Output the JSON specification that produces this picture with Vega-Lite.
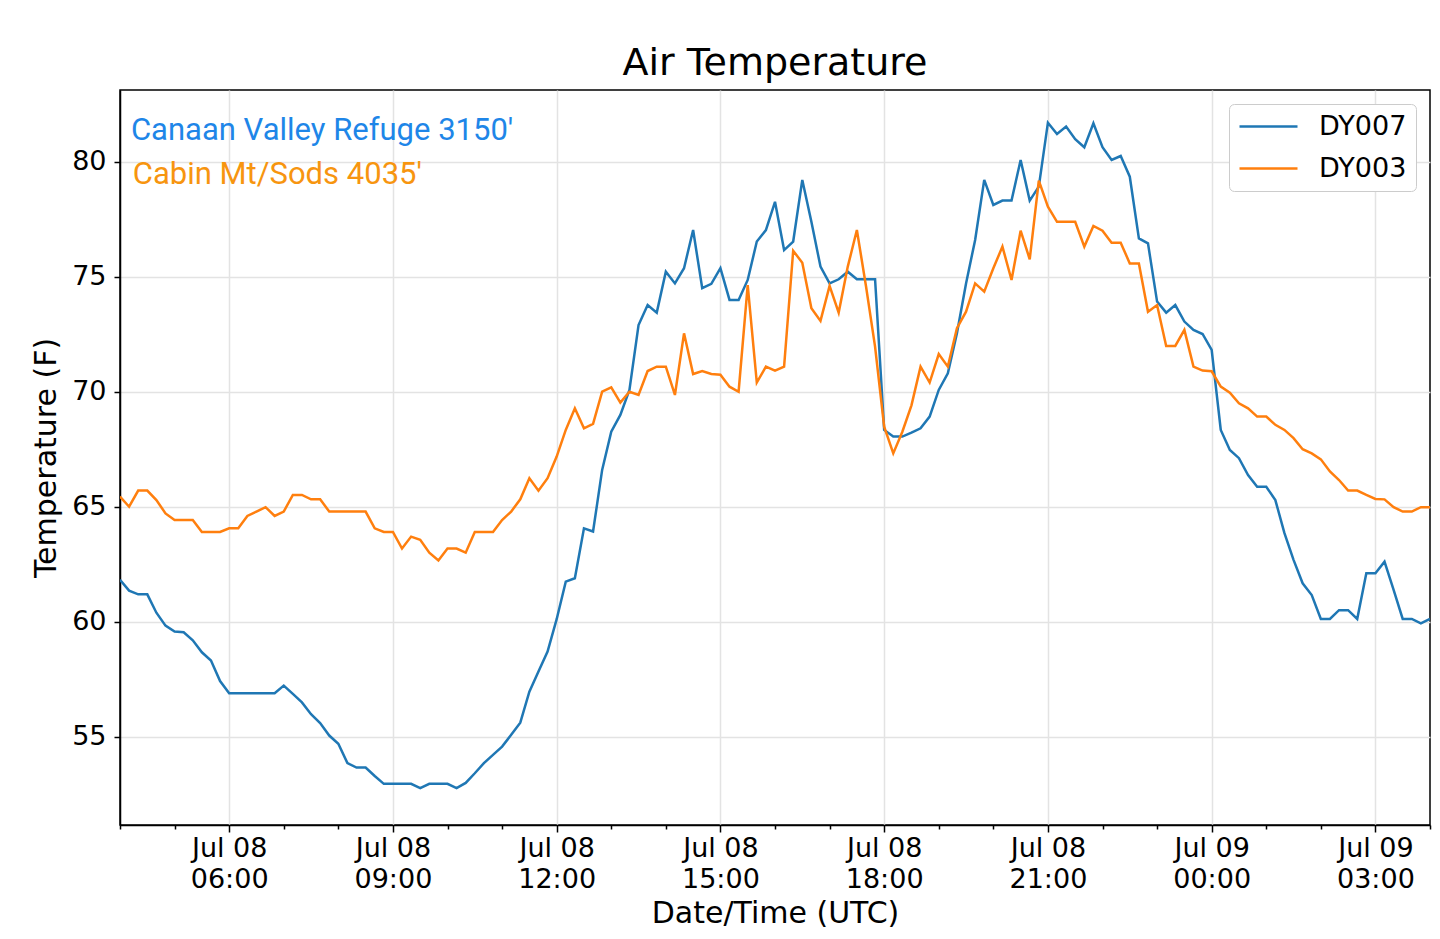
{
"$schema": "https://vega.github.io/schema/vega-lite/v6.json",
"width": 1310,
"height": 735,
"autosize": {"type": "none"},
"padding": {"left": 120, "top": 90, "right": 10, "bottom": 114},
"background": "white",
"config": {"view": {"stroke": "black", "strokeWidth": 1.5}, "font": "DejaVu Sans"},
"title": {"text": "Air Temperature", "fontSize": 38, "font": "DejaVu Sans", "fontWeight": "normal", "color": "black", "anchor": "middle", "baseline": "alphabetic", "offset": 12, "dy": 35},
"data": {"values": [
{"time":"2019-07-08T04:00Z","station":"DY007","temp":61.83},{"time":"2019-07-08T04:10Z","station":"DY007","temp":61.36},{"time":"2019-07-08T04:20Z","station":"DY007","temp":61.2},{"time":"2019-07-08T04:30Z","station":"DY007","temp":61.2},{"time":"2019-07-08T04:40Z","station":"DY007","temp":60.4},{"time":"2019-07-08T04:50Z","station":"DY007","temp":59.84},
{"time":"2019-07-08T05:00Z","station":"DY007","temp":59.58},{"time":"2019-07-08T05:10Z","station":"DY007","temp":59.55},{"time":"2019-07-08T05:20Z","station":"DY007","temp":59.2},{"time":"2019-07-08T05:30Z","station":"DY007","temp":58.68},{"time":"2019-07-08T05:40Z","station":"DY007","temp":58.32},{"time":"2019-07-08T05:50Z","station":"DY007","temp":57.43},
{"time":"2019-07-08T06:00Z","station":"DY007","temp":56.9},{"time":"2019-07-08T06:10Z","station":"DY007","temp":56.9},{"time":"2019-07-08T06:20Z","station":"DY007","temp":56.9},{"time":"2019-07-08T06:30Z","station":"DY007","temp":56.9},{"time":"2019-07-08T06:40Z","station":"DY007","temp":56.9},{"time":"2019-07-08T06:50Z","station":"DY007","temp":56.9},
{"time":"2019-07-08T07:00Z","station":"DY007","temp":57.23},{"time":"2019-07-08T07:10Z","station":"DY007","temp":56.87},{"time":"2019-07-08T07:20Z","station":"DY007","temp":56.5},{"time":"2019-07-08T07:30Z","station":"DY007","temp":55.99},{"time":"2019-07-08T07:40Z","station":"DY007","temp":55.6},{"time":"2019-07-08T07:50Z","station":"DY007","temp":55.06},
{"time":"2019-07-08T08:00Z","station":"DY007","temp":54.7},{"time":"2019-07-08T08:10Z","station":"DY007","temp":53.86},{"time":"2019-07-08T08:20Z","station":"DY007","temp":53.67},{"time":"2019-07-08T08:30Z","station":"DY007","temp":53.67},{"time":"2019-07-08T08:40Z","station":"DY007","temp":53.3},{"time":"2019-07-08T08:50Z","station":"DY007","temp":52.96},
{"time":"2019-07-08T09:00Z","station":"DY007","temp":52.96},{"time":"2019-07-08T09:10Z","station":"DY007","temp":52.96},{"time":"2019-07-08T09:20Z","station":"DY007","temp":52.96},{"time":"2019-07-08T09:30Z","station":"DY007","temp":52.77},{"time":"2019-07-08T09:40Z","station":"DY007","temp":52.96},{"time":"2019-07-08T09:50Z","station":"DY007","temp":52.96},
{"time":"2019-07-08T10:00Z","station":"DY007","temp":52.96},{"time":"2019-07-08T10:10Z","station":"DY007","temp":52.77},{"time":"2019-07-08T10:20Z","station":"DY007","temp":53.0},{"time":"2019-07-08T10:30Z","station":"DY007","temp":53.42},{"time":"2019-07-08T10:40Z","station":"DY007","temp":53.86},{"time":"2019-07-08T10:50Z","station":"DY007","temp":54.22},
{"time":"2019-07-08T11:00Z","station":"DY007","temp":54.58},{"time":"2019-07-08T11:10Z","station":"DY007","temp":55.09},{"time":"2019-07-08T11:20Z","station":"DY007","temp":55.62},{"time":"2019-07-08T11:30Z","station":"DY007","temp":56.97},{"time":"2019-07-08T11:40Z","station":"DY007","temp":57.84},{"time":"2019-07-08T11:50Z","station":"DY007","temp":58.71},
{"time":"2019-07-08T12:00Z","station":"DY007","temp":60.12},{"time":"2019-07-08T12:10Z","station":"DY007","temp":61.75},{"time":"2019-07-08T12:20Z","station":"DY007","temp":61.9},{"time":"2019-07-08T12:30Z","station":"DY007","temp":64.07},{"time":"2019-07-08T12:40Z","station":"DY007","temp":63.93},{"time":"2019-07-08T12:50Z","station":"DY007","temp":66.61},
{"time":"2019-07-08T13:00Z","station":"DY007","temp":68.27},{"time":"2019-07-08T13:10Z","station":"DY007","temp":69.0},{"time":"2019-07-08T13:20Z","station":"DY007","temp":70.09},{"time":"2019-07-08T13:30Z","station":"DY007","temp":72.91},{"time":"2019-07-08T13:40Z","station":"DY007","temp":73.78},{"time":"2019-07-08T13:50Z","station":"DY007","temp":73.45},
{"time":"2019-07-08T14:00Z","station":"DY007","temp":75.23},{"time":"2019-07-08T14:10Z","station":"DY007","temp":74.72},{"time":"2019-07-08T14:20Z","station":"DY007","temp":75.38},{"time":"2019-07-08T14:30Z","station":"DY007","temp":77.04},{"time":"2019-07-08T14:40Z","station":"DY007","temp":74.51},{"time":"2019-07-08T14:50Z","station":"DY007","temp":74.7},
{"time":"2019-07-08T15:00Z","station":"DY007","temp":75.38},{"time":"2019-07-08T15:10Z","station":"DY007","temp":74.0},{"time":"2019-07-08T15:20Z","station":"DY007","temp":74.0},{"time":"2019-07-08T15:30Z","station":"DY007","temp":74.87},{"time":"2019-07-08T15:40Z","station":"DY007","temp":76.54},{"time":"2019-07-08T15:50Z","station":"DY007","temp":77.04},
{"time":"2019-07-08T16:00Z","station":"DY007","temp":78.27},{"time":"2019-07-08T16:10Z","station":"DY007","temp":76.17},{"time":"2019-07-08T16:20Z","station":"DY007","temp":76.54},{"time":"2019-07-08T16:30Z","station":"DY007","temp":79.22},{"time":"2019-07-08T16:40Z","station":"DY007","temp":77.4},{"time":"2019-07-08T16:50Z","station":"DY007","temp":75.45},
{"time":"2019-07-08T17:00Z","station":"DY007","temp":74.72},{"time":"2019-07-08T17:10Z","station":"DY007","temp":74.9},{"time":"2019-07-08T17:20Z","station":"DY007","temp":75.23},{"time":"2019-07-08T17:30Z","station":"DY007","temp":74.9},{"time":"2019-07-08T17:40Z","station":"DY007","temp":74.9},{"time":"2019-07-08T17:50Z","station":"DY007","temp":74.9},
{"time":"2019-07-08T18:00Z","station":"DY007","temp":68.35},{"time":"2019-07-08T18:10Z","station":"DY007","temp":68.06},{"time":"2019-07-08T18:20Z","station":"DY007","temp":68.06},{"time":"2019-07-08T18:30Z","station":"DY007","temp":68.23},{"time":"2019-07-08T18:40Z","station":"DY007","temp":68.42},{"time":"2019-07-08T18:50Z","station":"DY007","temp":68.93},
{"time":"2019-07-08T19:00Z","station":"DY007","temp":70.09},{"time":"2019-07-08T19:10Z","station":"DY007","temp":70.81},{"time":"2019-07-08T19:20Z","station":"DY007","temp":72.55},{"time":"2019-07-08T19:30Z","station":"DY007","temp":74.72},{"time":"2019-07-08T19:40Z","station":"DY007","temp":76.61},{"time":"2019-07-08T19:50Z","station":"DY007","temp":79.22},
{"time":"2019-07-08T20:00Z","station":"DY007","temp":78.13},{"time":"2019-07-08T20:10Z","station":"DY007","temp":78.32},{"time":"2019-07-08T20:20Z","station":"DY007","temp":78.32},{"time":"2019-07-08T20:30Z","station":"DY007","temp":80.09},{"time":"2019-07-08T20:40Z","station":"DY007","temp":78.32},{"time":"2019-07-08T20:50Z","station":"DY007","temp":78.93},
{"time":"2019-07-08T21:00Z","station":"DY007","temp":81.71},{"time":"2019-07-08T21:10Z","station":"DY007","temp":81.22},{"time":"2019-07-08T21:20Z","station":"DY007","temp":81.54},{"time":"2019-07-08T21:30Z","station":"DY007","temp":80.99},{"time":"2019-07-08T21:40Z","station":"DY007","temp":80.64},{"time":"2019-07-08T21:50Z","station":"DY007","temp":81.68},
{"time":"2019-07-08T22:00Z","station":"DY007","temp":80.64},{"time":"2019-07-08T22:10Z","station":"DY007","temp":80.09},{"time":"2019-07-08T22:20Z","station":"DY007","temp":80.26},{"time":"2019-07-08T22:30Z","station":"DY007","temp":79.36},{"time":"2019-07-08T22:40Z","station":"DY007","temp":76.68},{"time":"2019-07-08T22:50Z","station":"DY007","temp":76.46},
{"time":"2019-07-08T23:00Z","station":"DY007","temp":73.93},{"time":"2019-07-08T23:10Z","station":"DY007","temp":73.45},{"time":"2019-07-08T23:20Z","station":"DY007","temp":73.78},{"time":"2019-07-08T23:30Z","station":"DY007","temp":73.06},{"time":"2019-07-08T23:40Z","station":"DY007","temp":72.7},{"time":"2019-07-08T23:50Z","station":"DY007","temp":72.52},
{"time":"2019-07-09T00:00Z","station":"DY007","temp":71.83},{"time":"2019-07-09T00:10Z","station":"DY007","temp":68.35},{"time":"2019-07-09T00:20Z","station":"DY007","temp":67.48},{"time":"2019-07-09T00:30Z","station":"DY007","temp":67.12},{"time":"2019-07-09T00:40Z","station":"DY007","temp":66.39},{"time":"2019-07-09T00:50Z","station":"DY007","temp":65.88},
{"time":"2019-07-09T01:00Z","station":"DY007","temp":65.88},{"time":"2019-07-09T01:10Z","station":"DY007","temp":65.3},{"time":"2019-07-09T01:20Z","station":"DY007","temp":63.86},{"time":"2019-07-09T01:30Z","station":"DY007","temp":62.7},{"time":"2019-07-09T01:40Z","station":"DY007","temp":61.68},{"time":"2019-07-09T01:50Z","station":"DY007","temp":61.17},
{"time":"2019-07-09T02:00Z","station":"DY007","temp":60.13},{"time":"2019-07-09T02:10Z","station":"DY007","temp":60.13},{"time":"2019-07-09T02:20Z","station":"DY007","temp":60.51},{"time":"2019-07-09T02:30Z","station":"DY007","temp":60.51},{"time":"2019-07-09T02:40Z","station":"DY007","temp":60.13},{"time":"2019-07-09T02:50Z","station":"DY007","temp":62.12},
{"time":"2019-07-09T03:00Z","station":"DY007","temp":62.12},{"time":"2019-07-09T03:10Z","station":"DY007","temp":62.62},{"time":"2019-07-09T03:20Z","station":"DY007","temp":61.39},{"time":"2019-07-09T03:30Z","station":"DY007","temp":60.13},{"time":"2019-07-09T03:40Z","station":"DY007","temp":60.13},{"time":"2019-07-09T03:50Z","station":"DY007","temp":59.94},
{"time":"2019-07-09T04:00Z","station":"DY007","temp":60.13},
{"time":"2019-07-08T04:00Z","station":"DY003","temp":65.45},{"time":"2019-07-08T04:10Z","station":"DY003","temp":65.01},{"time":"2019-07-08T04:20Z","station":"DY003","temp":65.71},{"time":"2019-07-08T04:30Z","station":"DY003","temp":65.71},{"time":"2019-07-08T04:40Z","station":"DY003","temp":65.3},{"time":"2019-07-08T04:50Z","station":"DY003","temp":64.72},
{"time":"2019-07-08T05:00Z","station":"DY003","temp":64.43},{"time":"2019-07-08T05:10Z","station":"DY003","temp":64.43},{"time":"2019-07-08T05:20Z","station":"DY003","temp":64.43},{"time":"2019-07-08T05:30Z","station":"DY003","temp":63.91},{"time":"2019-07-08T05:40Z","station":"DY003","temp":63.91},{"time":"2019-07-08T05:50Z","station":"DY003","temp":63.91},
{"time":"2019-07-08T06:00Z","station":"DY003","temp":64.07},{"time":"2019-07-08T06:10Z","station":"DY003","temp":64.07},{"time":"2019-07-08T06:20Z","station":"DY003","temp":64.61},{"time":"2019-07-08T06:30Z","station":"DY003","temp":64.8},{"time":"2019-07-08T06:40Z","station":"DY003","temp":64.99},{"time":"2019-07-08T06:50Z","station":"DY003","temp":64.61},
{"time":"2019-07-08T07:00Z","station":"DY003","temp":64.8},{"time":"2019-07-08T07:10Z","station":"DY003","temp":65.52},{"time":"2019-07-08T07:20Z","station":"DY003","temp":65.52},{"time":"2019-07-08T07:30Z","station":"DY003","temp":65.33},{"time":"2019-07-08T07:40Z","station":"DY003","temp":65.33},{"time":"2019-07-08T07:50Z","station":"DY003","temp":64.8},
{"time":"2019-07-08T08:00Z","station":"DY003","temp":64.8},{"time":"2019-07-08T08:10Z","station":"DY003","temp":64.8},{"time":"2019-07-08T08:20Z","station":"DY003","temp":64.8},{"time":"2019-07-08T08:30Z","station":"DY003","temp":64.8},{"time":"2019-07-08T08:40Z","station":"DY003","temp":64.07},{"time":"2019-07-08T08:50Z","station":"DY003","temp":63.91},
{"time":"2019-07-08T09:00Z","station":"DY003","temp":63.91},{"time":"2019-07-08T09:10Z","station":"DY003","temp":63.19},{"time":"2019-07-08T09:20Z","station":"DY003","temp":63.71},{"time":"2019-07-08T09:30Z","station":"DY003","temp":63.57},{"time":"2019-07-08T09:40Z","station":"DY003","temp":63.01},{"time":"2019-07-08T09:50Z","station":"DY003","temp":62.67},
{"time":"2019-07-08T10:00Z","station":"DY003","temp":63.19},{"time":"2019-07-08T10:10Z","station":"DY003","temp":63.19},{"time":"2019-07-08T10:20Z","station":"DY003","temp":63.01},{"time":"2019-07-08T10:30Z","station":"DY003","temp":63.91},{"time":"2019-07-08T10:40Z","station":"DY003","temp":63.91},{"time":"2019-07-08T10:50Z","station":"DY003","temp":63.91},
{"time":"2019-07-08T11:00Z","station":"DY003","temp":64.43},{"time":"2019-07-08T11:10Z","station":"DY003","temp":64.8},{"time":"2019-07-08T11:20Z","station":"DY003","temp":65.33},{"time":"2019-07-08T11:30Z","station":"DY003","temp":66.25},{"time":"2019-07-08T11:40Z","station":"DY003","temp":65.71},{"time":"2019-07-08T11:50Z","station":"DY003","temp":66.25},
{"time":"2019-07-08T12:00Z","station":"DY003","temp":67.19},{"time":"2019-07-08T12:10Z","station":"DY003","temp":68.35},{"time":"2019-07-08T12:20Z","station":"DY003","temp":69.29},{"time":"2019-07-08T12:30Z","station":"DY003","temp":68.42},{"time":"2019-07-08T12:40Z","station":"DY003","temp":68.61},{"time":"2019-07-08T12:50Z","station":"DY003","temp":70.01},
{"time":"2019-07-08T13:00Z","station":"DY003","temp":70.2},{"time":"2019-07-08T13:10Z","station":"DY003","temp":69.54},{"time":"2019-07-08T13:20Z","station":"DY003","temp":70.01},{"time":"2019-07-08T13:30Z","station":"DY003","temp":69.87},{"time":"2019-07-08T13:40Z","station":"DY003","temp":70.91},{"time":"2019-07-08T13:50Z","station":"DY003","temp":71.1},
{"time":"2019-07-08T14:00Z","station":"DY003","temp":71.1},{"time":"2019-07-08T14:10Z","station":"DY003","temp":69.87},{"time":"2019-07-08T14:20Z","station":"DY003","temp":72.55},{"time":"2019-07-08T14:30Z","station":"DY003","temp":70.78},{"time":"2019-07-08T14:40Z","station":"DY003","temp":70.91},{"time":"2019-07-08T14:50Z","station":"DY003","temp":70.78},
{"time":"2019-07-08T15:00Z","station":"DY003","temp":70.75},{"time":"2019-07-08T15:10Z","station":"DY003","temp":70.23},{"time":"2019-07-08T15:20Z","station":"DY003","temp":70.01},{"time":"2019-07-08T15:30Z","station":"DY003","temp":74.65},{"time":"2019-07-08T15:40Z","station":"DY003","temp":70.41},{"time":"2019-07-08T15:50Z","station":"DY003","temp":71.1},
{"time":"2019-07-08T16:00Z","station":"DY003","temp":70.93},{"time":"2019-07-08T16:10Z","station":"DY003","temp":71.1},{"time":"2019-07-08T16:20Z","station":"DY003","temp":76.14},{"time":"2019-07-08T16:30Z","station":"DY003","temp":75.62},{"time":"2019-07-08T16:40Z","station":"DY003","temp":73.64},{"time":"2019-07-08T16:50Z","station":"DY003","temp":73.09},
{"time":"2019-07-08T17:00Z","station":"DY003","temp":74.61},{"time":"2019-07-08T17:10Z","station":"DY003","temp":73.45},{"time":"2019-07-08T17:20Z","station":"DY003","temp":75.45},{"time":"2019-07-08T17:30Z","station":"DY003","temp":77.04},{"time":"2019-07-08T17:40Z","station":"DY003","temp":74.61},{"time":"2019-07-08T17:50Z","station":"DY003","temp":71.97},
{"time":"2019-07-08T18:00Z","station":"DY003","temp":68.49},{"time":"2019-07-08T18:10Z","station":"DY003","temp":67.33},{"time":"2019-07-08T18:20Z","station":"DY003","temp":68.27},{"time":"2019-07-08T18:30Z","station":"DY003","temp":69.42},{"time":"2019-07-08T18:40Z","station":"DY003","temp":71.1},{"time":"2019-07-08T18:50Z","station":"DY003","temp":70.41},
{"time":"2019-07-08T19:00Z","station":"DY003","temp":71.65},{"time":"2019-07-08T19:10Z","station":"DY003","temp":71.1},{"time":"2019-07-08T19:20Z","station":"DY003","temp":72.77},{"time":"2019-07-08T19:30Z","station":"DY003","temp":73.49},{"time":"2019-07-08T19:40Z","station":"DY003","temp":74.72},{"time":"2019-07-08T19:50Z","station":"DY003","temp":74.36},
{"time":"2019-07-08T20:00Z","station":"DY003","temp":75.38},{"time":"2019-07-08T20:10Z","station":"DY003","temp":76.32},{"time":"2019-07-08T20:20Z","station":"DY003","temp":74.87},{"time":"2019-07-08T20:30Z","station":"DY003","temp":77.01},{"time":"2019-07-08T20:40Z","station":"DY003","temp":75.77},{"time":"2019-07-08T20:50Z","station":"DY003","temp":79.19},
{"time":"2019-07-08T21:00Z","station":"DY003","temp":78.06},{"time":"2019-07-08T21:10Z","station":"DY003","temp":77.4},{"time":"2019-07-08T21:20Z","station":"DY003","temp":77.4},{"time":"2019-07-08T21:30Z","station":"DY003","temp":77.4},{"time":"2019-07-08T21:40Z","station":"DY003","temp":76.32},{"time":"2019-07-08T21:50Z","station":"DY003","temp":77.22},
{"time":"2019-07-08T22:00Z","station":"DY003","temp":77.01},{"time":"2019-07-08T22:10Z","station":"DY003","temp":76.49},{"time":"2019-07-08T22:20Z","station":"DY003","temp":76.49},{"time":"2019-07-08T22:30Z","station":"DY003","temp":75.59},{"time":"2019-07-08T22:40Z","station":"DY003","temp":75.59},{"time":"2019-07-08T22:50Z","station":"DY003","temp":73.49},
{"time":"2019-07-08T23:00Z","station":"DY003","temp":73.78},{"time":"2019-07-08T23:10Z","station":"DY003","temp":72.0},{"time":"2019-07-08T23:20Z","station":"DY003","temp":72.0},{"time":"2019-07-08T23:30Z","station":"DY003","temp":72.7},{"time":"2019-07-08T23:40Z","station":"DY003","temp":71.1},{"time":"2019-07-08T23:50Z","station":"DY003","temp":70.93},
{"time":"2019-07-09T00:00Z","station":"DY003","temp":70.9},{"time":"2019-07-09T00:10Z","station":"DY003","temp":70.23},{"time":"2019-07-09T00:20Z","station":"DY003","temp":69.97},{"time":"2019-07-09T00:30Z","station":"DY003","temp":69.51},{"time":"2019-07-09T00:40Z","station":"DY003","temp":69.29},{"time":"2019-07-09T00:50Z","station":"DY003","temp":68.93},
{"time":"2019-07-09T01:00Z","station":"DY003","temp":68.93},{"time":"2019-07-09T01:10Z","station":"DY003","temp":68.57},{"time":"2019-07-09T01:20Z","station":"DY003","temp":68.35},{"time":"2019-07-09T01:30Z","station":"DY003","temp":67.99},{"time":"2019-07-09T01:40Z","station":"DY003","temp":67.51},{"time":"2019-07-09T01:50Z","station":"DY003","temp":67.33},
{"time":"2019-07-09T02:00Z","station":"DY003","temp":67.07},{"time":"2019-07-09T02:10Z","station":"DY003","temp":66.54},{"time":"2019-07-09T02:20Z","station":"DY003","temp":66.17},{"time":"2019-07-09T02:30Z","station":"DY003","temp":65.71},{"time":"2019-07-09T02:40Z","station":"DY003","temp":65.71},{"time":"2019-07-09T02:50Z","station":"DY003","temp":65.52},
{"time":"2019-07-09T03:00Z","station":"DY003","temp":65.35},{"time":"2019-07-09T03:10Z","station":"DY003","temp":65.33},{"time":"2019-07-09T03:20Z","station":"DY003","temp":64.99},{"time":"2019-07-09T03:30Z","station":"DY003","temp":64.8},{"time":"2019-07-09T03:40Z","station":"DY003","temp":64.8},{"time":"2019-07-09T03:50Z","station":"DY003","temp":64.99},
{"time":"2019-07-09T04:00Z","station":"DY003","temp":64.99}
]},
"layer": [
{
"mark": {"type": "line", "strokeWidth": 2.5, "clip": true},
"encoding": {
"x": {"field": "time", "type": "temporal",
"scale": {"type": "utc", "nice": false, "domain": [{"year": 2019, "month": 7, "date": 8, "hours": 4, "utc": true}, {"year": 2019, "month": 7, "date": 9, "hours": 4, "utc": true}]},
"axis": {
"values": [
{"year":2019,"month":7,"date":8,"hours":4,"utc":true},{"year":2019,"month":7,"date":8,"hours":5,"utc":true},{"year":2019,"month":7,"date":8,"hours":6,"utc":true},{"year":2019,"month":7,"date":8,"hours":7,"utc":true},{"year":2019,"month":7,"date":8,"hours":8,"utc":true},{"year":2019,"month":7,"date":8,"hours":9,"utc":true},{"year":2019,"month":7,"date":8,"hours":10,"utc":true},{"year":2019,"month":7,"date":8,"hours":11,"utc":true},{"year":2019,"month":7,"date":8,"hours":12,"utc":true},{"year":2019,"month":7,"date":8,"hours":13,"utc":true},{"year":2019,"month":7,"date":8,"hours":14,"utc":true},{"year":2019,"month":7,"date":8,"hours":15,"utc":true},{"year":2019,"month":7,"date":8,"hours":16,"utc":true},{"year":2019,"month":7,"date":8,"hours":17,"utc":true},{"year":2019,"month":7,"date":8,"hours":18,"utc":true},{"year":2019,"month":7,"date":8,"hours":19,"utc":true},{"year":2019,"month":7,"date":8,"hours":20,"utc":true},{"year":2019,"month":7,"date":8,"hours":21,"utc":true},{"year":2019,"month":7,"date":8,"hours":22,"utc":true},{"year":2019,"month":7,"date":8,"hours":23,"utc":true},{"year":2019,"month":7,"date":9,"hours":0,"utc":true},{"year":2019,"month":7,"date":9,"hours":1,"utc":true},{"year":2019,"month":7,"date":9,"hours":2,"utc":true},{"year":2019,"month":7,"date":9,"hours":3,"utc":true},{"year":2019,"month":7,"date":9,"hours":4,"utc":true}
],
"labelExpr": "utchours(datum.value) % 3 === 0 ? [utcFormat(datum.value, '%b %d'), utcFormat(datum.value, '%H:%M')] : ''",
"labelFontSize": 27, "labelFont": "DejaVu Sans", "labelColor": "black", "labelLineHeight": 31, "labelPadding": 3,
"labelOverlap": false, "labelFlush": false, "labelBound": false,
"tickSize": {"condition": {"test": "utchours(datum.value) % 3 === 0", "value": 7}, "value": 4},
"tickColor": "black", "tickWidth": 1.5,
"grid": true, "gridColor": "#e3e3e3", "gridWidth": 1.5,
"gridOpacity": {"condition": {"test": "utchours(datum.value) % 3 === 0", "value": 1}, "value": 0},
"domainColor": "black", "domainWidth": 1.5,
"title": "Date/Time (UTC)", "titleFontSize": 30, "titleFont": "DejaVu Sans", "titleFontWeight": "normal", "titleColor": "black", "titlePadding": 6
}},
"y": {"field": "temp", "type": "quantitative",
"scale": {"domain": [51.17, 83.13], "nice": false, "zero": false},
"axis": {
"values": [55, 60, 65, 70, 75, 80],
"labelFontSize": 27, "labelFont": "DejaVu Sans", "labelColor": "black", "labelPadding": 8,
"tickSize": 6, "tickColor": "black", "tickWidth": 1.5,
"grid": true, "gridColor": "#e3e3e3", "gridWidth": 1.5,
"domainColor": "black", "domainWidth": 1.5,
"title": "Temperature (F)", "titleFontSize": 30, "titleFont": "DejaVu Sans", "titleFontWeight": "normal", "titleColor": "black", "titlePadding": 10
}},
"color": {"field": "station", "type": "nominal",
"scale": {"domain": ["DY007", "DY003"], "range": ["#1f77b4", "#ff7f0e"]},
"legend": {"title": null, "orient": "top-right", "offset": 14, "fillColor": "white", "strokeColor": "#cccccc", "cornerRadius": 5, "padding": 9,
"symbolType": "stroke", "symbolSize": 3364, "symbolStrokeWidth": 2.5, "symbolOpacity": 1, "clipHeight": 27,
"labelFontSize": 27, "labelFont": "DejaVu Sans", "labelColor": "black", "rowPadding": 14, "labelOffset": 20}}
}
},
{
"data": {"values": [{}]},
"mark": {"type": "text", "text": "Canaan Valley Refuge 3150'", "align": "left", "baseline": "alphabetic", "font": "Roboto", "fontSize": 31, "color": "#1e86e8"},
"encoding": {
"x": {"datum": {"year": 2019, "month": 7, "date": 8, "hours": 4, "minutes": 12, "utc": true}, "type": "temporal"},
"y": {"datum": 80.96, "type": "quantitative"}
}
},
{
"data": {"values": [{}]},
"mark": {"type": "text", "text": "Cabin Mt/Sods 4035'", "align": "left", "baseline": "alphabetic", "font": "Roboto", "fontSize": 31, "color": "#f7950f"},
"encoding": {
"x": {"datum": {"year": 2019, "month": 7, "date": 8, "hours": 4, "minutes": 14, "utc": true}, "type": "temporal"},
"y": {"datum": 79.04, "type": "quantitative"}
}
}
]
}
